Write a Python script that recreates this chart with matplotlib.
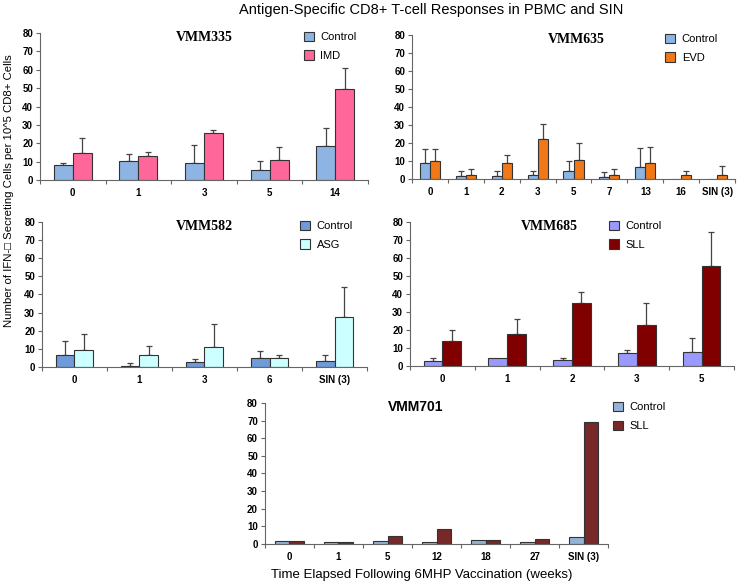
import numpy as np
import matplotlib.pyplot as plt

# данные
vmm335_weeks = ['0', '1', '3', '5', '14']
vmm335_ctrl = [8.2, 10.5, 9.3, 5.6, 18.5]
vmm335_ctrl_err = [1.2, 3.7, 9.9, 4.6, 10.0]
vmm335_imd = [14.7, 13.1, 25.4, 11.1, 49.4]
vmm335_imd_err = [8.0, 2.1, 1.8, 6.7, 11.6]

vmm635_weeks = ['0', '1', '2', '3', '5', '7', '13', '16', 'SIN (3)']
vmm635_ctrl = [9.1, 1.7, 1.7, 2.2, 4.6, 1.1, 6.7, 0, 0]
vmm635_ctrl_err = [7.4, 2.9, 2.6, 2.4, 5.4, 2.6, 10.7, 0, 0]
vmm635_evd = [10.0, 2.4, 9.1, 22.2, 10.4, 2.4, 8.7, 2.0, 2.4]
vmm635_evd_err = [6.5, 3.0, 4.2, 8.3, 9.6, 3.0, 8.9, 2.6, 5.0]

vmm582_weeks = ['0', '1', '3', '6', 'SIN (3)']
vmm582_ctrl = [6.8, 0.6, 2.6, 4.8, 3.5]
vmm582_ctrl_err = [7.8, 1.6, 1.7, 4.1, 3.3]
vmm582_asg = [9.6, 6.5, 11.3, 4.8, 27.4]
vmm582_asg_err = [8.7, 5.0, 12.4, 1.7, 17.0]

vmm685_weeks = ['0', '1', '2', '3', '5']
vmm685_ctrl = [2.8, 4.5, 3.3, 7.4, 8.0]
vmm685_ctrl_err = [1.7, 0, 1.2, 1.5, 7.4]
vmm685_sll = [14.0, 17.9, 35.2, 22.9, 55.4]
vmm685_sll_err = [5.9, 8.0, 5.9, 11.9, 18.8]

vmm701_weeks = ['0', '1', '5', '12', '18', '27', 'SIN (3)']
vmm701_ctrl = [1.9, 0.9, 1.9, 1.3, 2.3, 0.9, 4.0]
vmm701_sll = [1.9, 1.3, 4.4, 8.7, 2.3, 3.0, 69.4]

plt.rcParams['font.family'] = ['Liberation Sans', 'DejaVu Sans']

fig = plt.figure(figsize=(7.38, 5.82), dpi=100)


def panel(rect, weeks, ctrl, other, ctrl_err, other_err, name, c1, c2, lab2,
          leg_xy, title_x, serif=True, width=0.29):
    ax = fig.add_axes(rect)
    x = np.arange(len(weeks))
    ax.bar(x - width / 2, ctrl, width, color=c1, edgecolor='#333333', lw=0.8,
           label='Control', zorder=2)
    ax.bar(x + width / 2, other, width, color=c2, edgecolor='#333333', lw=0.8,
           label=lab2, zorder=2)
    if ctrl_err is not None:
        for xs, v, e in [(x - width / 2, ctrl, ctrl_err), (x + width / 2, other, other_err)]:
            e = np.array(e)
            m = e > 0
            ax.errorbar(xs[m], np.array(v)[m], yerr=[np.zeros(m.sum()), e[m]],
                        fmt='none', ecolor='#444444', elinewidth=0.9,
                        capsize=2.5, capthick=0.9, zorder=1)
    ax.set_xlim(-0.5, len(weeks) - 0.5)
    ax.set_ylim(0, 80)
    ax.set_yticks(range(0, 81, 10))
    ax.set_xticks(np.arange(len(weeks) + 1) - 0.5)
    ax.set_xticklabels([])
    ax.set_xticks(x, minor=True)
    ax.set_xticklabels(weeks, minor=True)
    ax.tick_params(axis='x', which='major', length=3, color='#666666')
    ax.tick_params(axis='x', which='minor', length=0, pad=6)
    ax.tick_params(axis='y', length=3, color='#666666', pad=2)
    for lbl in ax.get_yticklabels() + ax.get_xticklabels(minor=True):
        lbl.set_fontsize(7)
        lbl.set_fontweight('bold')
    for s in ['top', 'right']:
        ax.spines[s].set_visible(False)
    for s in ['left', 'bottom']:
        ax.spines[s].set_color('#666666')
    if serif:
        ax.text(title_x, 0.97, name, transform=ax.transAxes, ha='center', va='center',
                fontsize=10, fontweight='bold', family='Liberation Serif')
    else:
        ax.text(title_x, 0.97, name, transform=ax.transAxes, ha='center', va='center',
                fontsize=10, fontweight='bold')
    ax.legend(loc='upper left', bbox_to_anchor=leg_xy, frameon=False, fontsize=8,
              handlelength=0.9, handleheight=0.9, handletextpad=0.6, labelspacing=0.75,
              borderaxespad=0)
    return ax


panel([0.0542, 0.6907, 0.4444, 0.2526], vmm335_weeks, vmm335_ctrl, vmm335_imd,
      vmm335_ctrl_err, vmm335_imd_err, 'VMM335', '#8DB4E2', '#FF6699', 'IMD',
      (0.79, 1.04), 0.5)
panel([0.5583, 0.6924, 0.4377, 0.2475], vmm635_weeks, vmm635_ctrl, vmm635_evd,
      vmm635_ctrl_err, vmm635_evd_err, 'VMM635', '#8DB4E2', '#F07818', 'EVD',
      (0.77, 1.04), 0.51, width=0.28)
panel([0.0569, 0.3694, 0.4404, 0.2492], vmm582_weeks, vmm582_ctrl, vmm582_asg,
      vmm582_ctrl_err, vmm582_asg_err, 'VMM582', '#6F9BD8', '#CCFFFF', 'ASG',
      (0.78, 1.04), 0.5)
panel([0.5556, 0.3711, 0.4390, 0.2475], vmm685_weeks, vmm685_ctrl, vmm685_sll,
      vmm685_ctrl_err, vmm685_sll_err, 'VMM685', '#9999FF', '#800000', 'SLL',
      (0.60, 1.04), 0.43)
panel([0.359, 0.0653, 0.465, 0.2423], vmm701_weeks, vmm701_ctrl, vmm701_sll,
      None, None, 'VMM701', '#95B3D7', '#772828', 'SLL',
      (1.0, 1.04), 0.44, serif=False, width=0.3)

fig.text(0.584, 0.982, 'Antigen-Specific CD8+ T-cell Responses in PBMC and SIN',
         ha='center', va='center', fontsize=10.5)
fig.text(0.012, 0.672, 'Number of IFN-\u25a1 Secreting Cells per 10^5 CD8+ Cells',
         rotation=90, ha='center', va='center', fontsize=8.2)
fig.text(0.571, 0.012, 'Time Elapsed Following 6MHP Vaccination (weeks)',
         ha='center', va='center', fontsize=9.5)

plt.savefig('out.png', dpi=100)
